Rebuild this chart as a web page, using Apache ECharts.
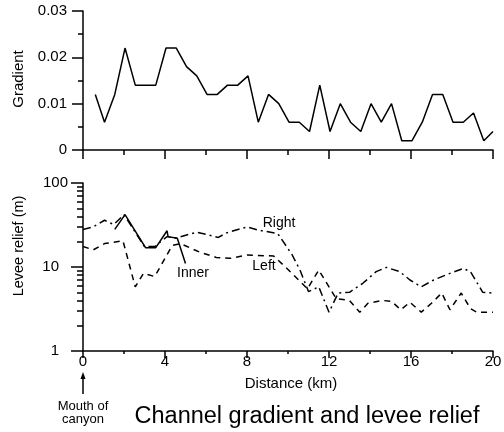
<!DOCTYPE html>
<html>
<head>
<meta charset="utf-8">
<script src="https://cdn.jsdelivr.net/npm/echarts@6/dist/echarts.min.js"></script>
<style>
html, body { margin: 0; padding: 0; background: #fff; }
#chart { width: 504px; height: 432px; }
</style>
</head>
<body>
<div id="chart"></div>
<script>
// channel gradient
var gradientKm = [0.6, 1.05, 1.55, 2.05, 2.55, 3.05, 3.55, 4.05, 4.55, 5.05,
    5.55, 6.05, 6.55, 7.05, 7.55, 8.05, 8.55, 9.05, 9.55, 10.05,
    10.55, 11.05, 11.55, 12.05, 12.55, 13.05, 13.55, 14.05, 14.55, 15.05,
    15.55, 16.05, 16.55, 17.05, 17.55, 18.05, 18.55, 19.05, 19.55, 20.0];
var gradientVal = [0.012, 0.006, 0.012, 0.022, 0.014, 0.014, 0.014, 0.022, 0.022, 0.018,
    0.016, 0.012, 0.012, 0.014, 0.014, 0.016, 0.006, 0.012, 0.010, 0.006,
    0.006, 0.004, 0.014, 0.004, 0.010, 0.006, 0.004, 0.010, 0.006, 0.010,
    0.002, 0.002, 0.006, 0.012, 0.012, 0.006, 0.006, 0.008, 0.002, 0.004];

// levee relief (m), lower panel
var rightKm = [0, 0.5, 1.05, 1.5, 2.0, 3.0, 3.5, 4.1, 4.5, 5.55,
    6.6, 7.0, 8.0, 8.55, 9.5, 10.2, 10.6, 11.0, 11.5, 12.0,
    12.45, 13.0, 13.65, 14.3, 14.8, 15.45, 15.95, 16.5, 17.1, 17.9,
    18.55, 18.9, 19.5, 20];
var rightVal = [28, 30, 36, 32, 42, 17.5, 17.5, 23, 22, 26,
    22.5, 25.5, 30, 27.5, 25, 14, 9, 5.1, 5.8, 2.9,
    4.9, 5, 6.4, 8.8, 9.9, 8.8, 7, 5.8, 7, 8.4,
    9.6, 8.8, 5, 4.9];

var leftKm = [0, 0.5, 1.05, 1.95, 2.55, 2.95, 3.5, 4.35, 4.75, 5.7,
    6.5, 7.2, 8.0, 9.3, 9.95, 10.6, 10.95, 11.5, 12.35, 13.0,
    13.5, 13.9, 14.6, 15.05, 15.5, 15.95, 16.5, 17.0, 17.5, 17.9,
    18.45, 18.9, 19.2, 20];
var leftVal = [17.5, 16, 19, 20.5, 5.8, 8.4, 7.7, 18, 19, 15,
    13, 12.7, 13.9, 13.5, 9.6, 6.7, 5.5, 9.2, 4.2, 4,
    2.9, 3.7, 4, 3.9, 3.1, 3.8, 2.9, 3.7, 4.9, 3.1,
    4.9, 3.2, 2.9, 2.9];

var innerKm = [1.55, 2.05, 3.05, 3.55, 4.1, 4.15, 4.6, 5.0];
var innerVal = [28, 42, 17, 17, 27, 23, 22, 11];

var xTicks = [0, 4, 8, 12, 16, 20];
var logMajorTicks = [1, 10, 100];
var logMinorTicks = [2, 3, 4, 5, 6, 7, 8, 9, 20, 30, 40, 50, 60, 70, 80, 90];

var FONT = 'Liberation Sans, Arial, Helvetica, sans-serif';
var INK = '#000';

function pairs(xs, ys) {
    var out = [];
    for (var i = 0; i < xs.length; i++) {
        out.push([xs[i], ys[i]]);
    }
    return out;
}

function lineSeries(xs, ys, axisIdx, dash) {
    return {
        type: 'line',
        xAxisIndex: axisIdx,
        yAxisIndex: axisIdx,
        data: pairs(xs, ys),
        symbol: 'none',
        silent: true,
        lineStyle: { color: INK, width: 1.5, type: dash || 'solid' }
    };
}

function axisBase(grid) {
    return {
        gridIndex: grid,
        axisLine: { show: true, onZero: false, lineStyle: { color: INK, width: 1.5 } },
        splitLine: { show: false },
        axisLabel: { color: INK, fontSize: 15, fontFamily: FONT }
    };
}

var chart = echarts.init(document.getElementById('chart'));

var xTop = axisBase(0);
xTop.type = 'value';
xTop.min = 0; xTop.max = 20; xTop.interval = 4;
xTop.axisTick = { length: 9, lineStyle: { color: INK, width: 1.5 } };
xTop.minorTick = { show: true, splitNumber: 2, length: 5, lineStyle: { color: INK, width: 1.5 } };
xTop.axisLabel.show = false;

var xBottom = axisBase(1);
xBottom.type = 'value';
xBottom.min = 0; xBottom.max = 20; xBottom.interval = 4;
xBottom.axisTick = { length: 7, lineStyle: { color: INK, width: 1.5 } };
xBottom.minorTick = { show: true, splitNumber: 2, length: 3, lineStyle: { color: INK, width: 1.5 } };
xBottom.axisLabel.margin = 3;
xBottom.axisLabel.customValues = xTicks;

var yTop = axisBase(0);
yTop.type = 'value';
yTop.min = 0; yTop.max = 0.03; yTop.interval = 0.01;
yTop.axisTick = { length: 11, lineStyle: { color: INK, width: 1.5 } };
yTop.minorTick = { show: true, splitNumber: 2, length: 5, lineStyle: { color: INK, width: 1.5 } };
yTop.axisLabel.margin = 16;

var yLog = axisBase(1);
yLog.type = 'log';
yLog.logBase = 10;
yLog.min = 1; yLog.max = 100;
yLog.position = 'left';
yLog.axisTick = { length: 12, customValues: logMajorTicks, lineStyle: { color: INK, width: 1.5 } };
yLog.axisLabel.margin = 24;
yLog.axisLabel.customValues = [1, 10];

// second log axis only for the 2..9 minor ticks and the offset "100" label
var yLogMinor = axisBase(1);
yLogMinor.type = 'log';
yLogMinor.logBase = 10;
yLogMinor.min = 1; yLogMinor.max = 100;
yLogMinor.position = 'left';
yLogMinor.axisLine = { show: false };
yLogMinor.axisTick = { length: 6, customValues: logMinorTicks, lineStyle: { color: INK, width: 1.5 } };
yLogMinor.axisLabel.margin = 15;
yLogMinor.axisLabel.customValues = [100];

function label(x, y, text, size, rotation) {
    return {
        type: 'text',
        x: x, y: y,
        rotation: rotation || 0,
        style: {
            text: text,
            fill: INK,
            font: (size || 14) + 'px ' + FONT,
            align: 'center',
            verticalAlign: 'middle'
        }
    };
}

chart.setOption({
    backgroundColor: '#fff',
    animation: false,
    grid: [
        { left: 83, right: 11, top: 11, height: 139, outerBoundsMode: 'none' },
        { left: 83, right: 11, top: 183, height: 168, outerBoundsMode: 'none' }
    ],
    xAxis: [xTop, xBottom],
    yAxis: [yTop, yLog, yLogMinor],
    series: [
        lineSeries(gradientKm, gradientVal, 0),
        lineSeries(rightKm, rightVal, 1, [8, 4, 2, 4]),
        lineSeries(leftKm, leftVal, 1, [6, 5]),
        lineSeries(innerKm, innerVal, 1)
    ],
    graphic: [
        label(19, 79, 'Gradient', 15, Math.PI / 2),
        label(19, 246, 'Levee relief (m)', 14.5, Math.PI / 2),
        label(279, 223, 'Right', 14),
        label(264, 266, 'Left', 14),
        label(193, 273, 'Inner', 14),
        label(291, 384, 'Distance (km)', 15),
        label(83, 406, 'Mouth of', 13),
        label(83, 419, 'canyon', 13),
        label(307, 417, 'Channel gradient and levee relief', 23.5),
        {
            type: 'line',
            shape: { x1: 83, y1: 394, x2: 83, y2: 376 },
            style: { stroke: INK, lineWidth: 1.5 }
        },
        {
            type: 'polygon',
            shape: { points: [[83, 372], [80.5, 379], [85.5, 379]] },
            style: { fill: INK }
        }
    ]
});
</script>
</body>
</html>
